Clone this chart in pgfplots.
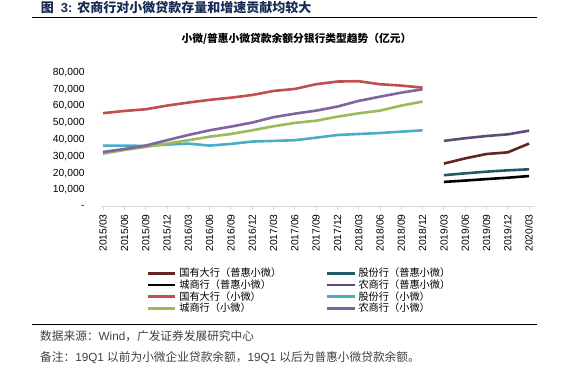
\documentclass[border=0pt]{standalone}
\usepackage{fontspec}
\setmainfont{Liberation Sans}
\newfontfamily\cjk{Noto Sans CJK SC}
\usepackage{pgfplots}
\pgfplotsset{compat=1.18}
\definecolor{cGYp}{RGB}{99,37,35}
\definecolor{cGFp}{RGB}{33,89,104}
\definecolor{cCSp}{RGB}{0,0,0}
\definecolor{cNSp}{RGB}{96,74,123}
\definecolor{cGY}{RGB}{192,80,77}
\definecolor{cGF}{RGB}{75,172,198}
\definecolor{cCS}{RGB}{155,187,89}
\definecolor{cNS}{RGB}{128,100,162}
\definecolor{titleblue}{RGB}{23,43,84}
\definecolor{notegray}{RGB}{64,64,64}
\definecolor{axgray}{RGB}{217,217,217}
\begin{document}
\begin{tikzpicture}[x=1bp,y=1bp]
\path[use as bounding box] (0,0) rectangle (565,376);
\node[anchor=west, inner sep=0pt, text=titleblue] at (40.7,368.3) {\fontsize{13bp}{15bp}\selectfont{\cjk\bfseries 图}\hspace{7bp}{\bfseries 3:}\hspace{5bp}{\cjk\bfseries 农商行对小微贷款存量和增速贡献均较大}};
\draw[line width=0.9bp] (32.4,358.3) -- (536.7,358.3);
\node[inner sep=0pt] at (296.5,337) {\cjk\bfseries\fontsize{10.75bp}{12bp}\selectfont 小微/普惠小微贷款余额分银行类型趋势（亿元）};
\begin{axis}[
  at={(100.7bp,169.2bp)}, anchor=south west,
  scale only axis, width=434.3bp, height=134.5bp,
  xmin=-0.11, xmax=20.28, ymin=0, ymax=80000,
  axis x line*=bottom, axis y line*=left,
  x axis line style={draw=axgray, line width=0.8bp, -},
  y axis line style={draw=none},
  xtick={0,...,20},
  xticklabels={2015/03,2015/06,2015/09,2015/12,2016/03,2016/06,2016/09,2016/12,2017/03,2017/06,2017/09,2017/12,2018/03,2018/06,2018/09,2018/12,2019/03,2019/06,2019/09,2019/12,2020/03},
  ytick={0,10000,20000,30000,40000,50000,60000,70000,80000},
  yticklabels={-,{10,000},{20,000},{30,000},{40,000},{50,000},{60,000},{70,000},{80,000}},
  scaled y ticks=false, scaled x ticks=false,
  tick align=outside,
  major tick length=3.5bp,
  xtick style={draw=axgray, line width=0.8bp},
  ytick style={draw=none},
  xticklabel style={rotate=90, anchor=east, inner sep=0pt, font=\fontsize{10.3bp}{12bp}\selectfont},
  yticklabel style={anchor=east, inner sep=0pt, font=\fontsize{10.3bp}{12bp}\selectfont},
  xticklabel shift=3.8bp, yticklabel shift=12.5bp,
  clip=false,
  legend columns=2, legend cell align=left,
  legend style={at={(0.106,-0.451)}, anchor=north west, draw=none, fill=none,
    inner sep=0pt, outer sep=0pt, row sep=0pt,
    font=\cjk\fontsize{10.2bp}{12bp}\selectfont,
    nodes={inner xsep=2.7bp, inner ysep=0pt, text height=9.3bp, text depth=2.37bp},
    /tikz/every even column/.append style={column sep=41.9bp}},
  legend image code/.code={\draw[#1] (0bp,0bp) -- (27.3bp,0bp);},
  every axis plot/.append style={line width=2.6bp, line join=round, mark=none},
]
\addplot[cGYp] coordinates {(16,25700)(17,28800)(18,31400)(19,32400)(20,37600)};
\addlegendentry{国有大行（普惠小微）}
\addplot[cGFp] coordinates {(16,18800)(17,19900)(18,20900)(19,21700)(20,22300)};
\addlegendentry{股份行（普惠小微）}
\addplot[cCSp] coordinates {(16,14800)(17,15600)(18,16500)(19,17300)(20,18300)};
\addlegendentry{城商行（普惠小微）}
\addplot[cNSp] coordinates {(16,39200)(17,40800)(18,42100)(19,43100)(20,45300)};
\addlegendentry{农商行（普惠小微）}
\addplot[cGY] coordinates {(0,55700)(1,57000)(2,58000)(3,60200)(4,62000)(5,63600)(6,64900)(7,66500)(8,68900)(9,70100)(10,72900)(11,74500)(12,74700)(13,72900)(14,72100)(15,70900)};
\addlegendentry{国有大行（小微）}
\addplot[cGF] coordinates {(0,36400)(1,36400)(2,36200)(3,37000)(4,37600)(5,36400)(6,37400)(7,38800)(8,39200)(9,39600)(10,41100)(11,42700)(12,43300)(13,43900)(14,44700)(15,45500)};
\addlegendentry{股份行（小微）}
\addplot[cCS] coordinates {(0,31600)(1,33800)(2,35600)(3,37600)(4,39600)(5,41700)(6,43300)(7,45500)(8,47900)(9,49900)(10,51200)(11,53600)(12,55600)(13,57200)(14,60200)(15,62600)};
\addlegendentry{城商行（小微）}
\addplot[cNS] coordinates {(0,32600)(1,34400)(2,36400)(3,39600)(4,42700)(5,45500)(6,47700)(7,50100)(8,53300)(9,55400)(10,57200)(11,59600)(12,63000)(13,65500)(14,67900)(15,69900)};
\addlegendentry{农商行（小微）}
\end{axis}
\draw[line width=0.9bp] (32.4,51.7) -- (536.7,51.7);
\node[anchor=west, inner sep=0pt, text=notegray] at (40,39.5) {\fontsize{11.7bp}{14bp}\selectfont{\cjk 数据来源：}Wind{\cjk ，广发证券发展研究中心}};
\node[anchor=west, inner sep=0pt, text=notegray] at (40,18.5) {\fontsize{11.7bp}{14bp}\selectfont{\cjk 备注：}19Q1 {\cjk 以前为小微企业贷款余额，}19Q1 {\cjk 以后为普惠小微贷款余额。}};
\end{tikzpicture}
\end{document}
